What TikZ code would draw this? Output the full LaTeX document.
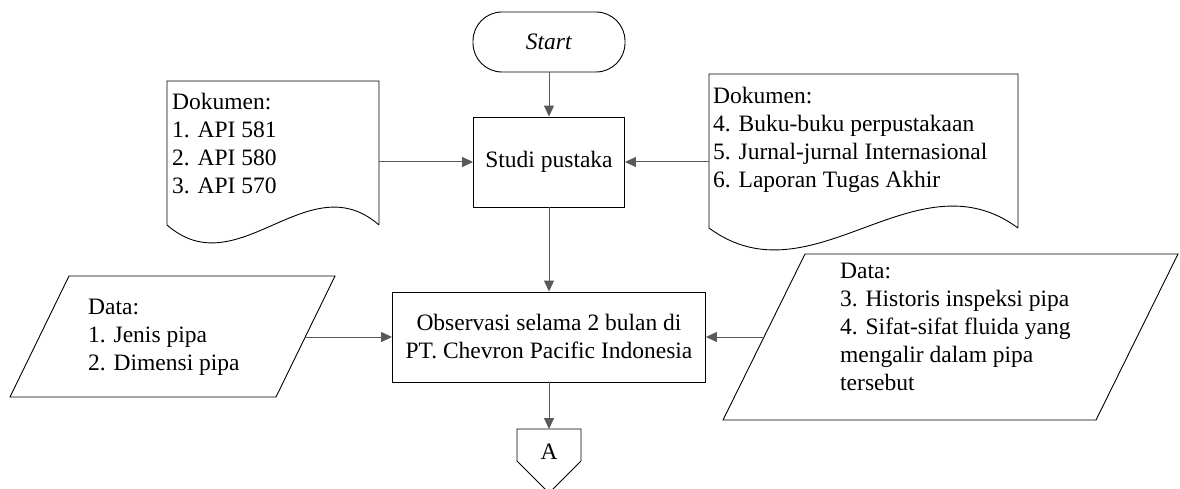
\documentclass[tikz,border=0pt]{standalone}
\usepackage{fontspec}
\setmainfont{Liberation Serif}
\usetikzlibrary{arrows.meta}
\definecolor{linegray}{RGB}{89,89,89}
\begin{document}
\begin{tikzpicture}[x=1pt,y=-1pt,
  shapeline/.style={draw=black, line width=0.9pt},
  conn/.style={draw=linegray, line width=1pt, -{Triangle[length=11pt,width=10pt]}},
  txt/.style={font=\fontsize{23.5}{28}\selectfont, inner sep=0pt, align=left},
  boxnode/.style={shapeline, font=\fontsize{23.5}{28}\selectfont, inner sep=0pt, align=center}
  ]
\useasboundingbox (0,0) rectangle (1180,489);

% Start terminal
\node[boxnode, rounded corners=29pt, minimum width=152pt, minimum height=60pt] (start) at (549,42) {\textit{Start}};

% Process boxes
\node[boxnode, minimum width=151pt, minimum height=90pt] (studi) at (549,162) {Studi pustaka};
\node[boxnode, minimum width=313pt, minimum height=90pt] (obs) at (549,337) {Observasi selama 2 bulan di\\PT. Chevron Pacific Indonesia};

% Left document
\draw[shapeline] (379,225) -- (379,81) -- (167,81) -- (167,225) .. controls (238,287) and (308,163) .. (379,225);
\node[txt, anchor=west] (ldoctext) at (172,144) {Dokumen:\\1. API 581\\2. API 580\\3. API 570};
\coordinate (ldoc) at (379,162);

% Right document
\draw[shapeline] (1018,228) -- (1018,74) -- (709,74) -- (709,228) .. controls (812,304) and (915,152) .. (1018,228);
\node[txt, anchor=west] (rdoctext) at (713,140) {Dokumen:\\4. Buku-buku perpustakaan\\5. Jurnal-jurnal Internasional\\6. Laporan Tugas Akhir};
\coordinate (rdoc) at (709,162);

% Left data parallelogram
\draw[shapeline] (69,276) -- (335,276) -- (276,397) -- (10,397) -- cycle;
\node[txt, anchor=west] (lpartext) at (88,337) {Data:\\1. Jenis pipa\\2. Dimensi pipa};
\coordinate (lpar) at (305,337);

% Right data parallelogram
\draw[shapeline] (805,254) -- (1178,254) -- (1096,420) -- (723,420) -- cycle;
\node[txt, anchor=west] (rpartext) at (840,327) {Data:\\3. Historis inspeksi pipa\\4. Sifat-sifat fluida yang\\mengalir dalam pipa\\tersebut};
\coordinate (rpar) at (764,337);

% Off-page connector A
\draw[shapeline] (517,429) -- (581,429) -- (581,461) -- (549,493) -- (517,461) -- cycle;
\node[txt] (alabel) at (549,452) {A};
\coordinate (atop) at (549,429);

% Connectors
\draw[conn] (start) -- (studi);
\draw[conn] (ldoc) -- (studi.west);
\draw[conn] (rdoc) -- (studi.east);
\draw[conn] (studi) -- (obs);
\draw[conn] (lpar) -- (lpar -| obs.west);
\draw[conn] (rpar) -- (rpar -| obs.east);
\draw[conn] (obs) -- (atop);
\end{tikzpicture}
\end{document}
